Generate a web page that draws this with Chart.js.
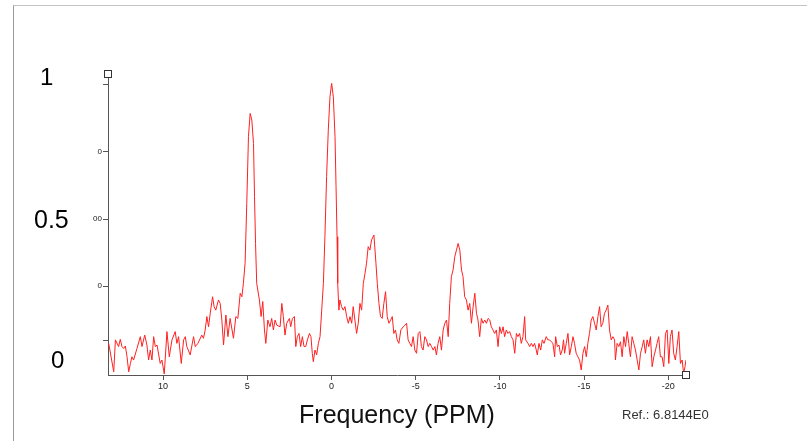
<!DOCTYPE html>
<html>
<head>
<meta charset="utf-8">
<script src="https://cdn.jsdelivr.net/npm/chart.js@4"></script>
<style>
  body { margin: 0; background: #fff; }
  #wrap { position: relative; width: 807px; height: 441px; overflow: hidden; }
  #frame { position: absolute; left: 13px; top: 5px; right: 0; bottom: 0;
           border-top: 1px solid #c4c4c4; border-left: 1px solid #9a9a9a; }
  .big { position: absolute; font-family: 'Liberation Sans', Arial, sans-serif;
         font-size: 24px; line-height: 24px; color: #000; }
  #ref { position: absolute; left: 622px; top: 407px; font-family: 'Liberation Sans', Arial, sans-serif;
         font-size: 13px; color: #333; }
  canvas { position: absolute; left: 0; top: 0; }
</style>
</head>
<body>
<div id="wrap">
  <div id="frame"></div>
  <canvas id="spectrum" width="807" height="441"></canvas>
  <div class="big" id="lab1" style="left:40px; top:65px;">1</div>
  <div class="big" id="lab05" style="left:34px; top:207px; font-size:25px;">0.5</div>
  <div class="big" id="lab0" style="left:51px; top:348px;">0</div>
  <div id="ref">Ref.: 6.8144E0</div>
</div>
<script>
// chemical shift (ppm), left to right
const ppm = [
  13.23, 12.93, 12.83, 12.64, 12.54, 12.44, 12.34, 12.24, 12.14, 12.04, 11.94, 11.85, 11.75, 11.55, 11.35, 11.25, 11.09,
  10.96, 10.86, 10.76, 10.66, 10.56, 10.46, 10.36, 10.17, 10.07, 9.93, 9.77, 9.63, 9.57, 9.47, 9.28, 9.18, 9.08, 8.92,
  8.78, 8.68, 8.59, 8.39, 8.19, 8.09, 7.93, 7.70, 7.60, 7.50, 7.40, 7.30, 7.20, 7.06, 6.97, 6.87, 6.71, 6.61, 6.51, 6.41,
  6.27, 6.15, 6.02, 5.82, 5.68, 5.56, 5.42, 5.32, 5.23, 5.13, 5.03, 4.93, 4.83,
  4.73, 4.63, 4.57, 4.51, 4.44, 4.28, 4.18, 4.08, 3.98, 3.90, 3.78, 3.65, 3.55, 3.45, 3.35, 3.25, 3.05, 2.95, 2.86, 2.76,
  2.66, 2.50, 2.42, 2.32, 2.20, 2.12, 2.03, 1.93, 1.83, 1.73, 1.63, 1.53, 1.43, 1.31, 1.22, 1.14, 1.08, 0.98, 0.88, 0.78,
  0.68, 0.58, 0.48, 0.39, 0.29, 0.19, 0.09, -0.01, -0.11, -0.21, -0.27, -0.33, -0.37, -0.44, -0.50, -0.60, -0.70, -0.80,
  -0.90, -1.00, -1.10, -1.20, -1.29, -1.39, -1.49, -1.59, -1.69, -1.79, -1.89, -1.99, -2.08, -2.18, -2.28, -2.38, -2.52,
  -2.64, -2.72, -2.82, -2.91, -3.01, -3.11, -3.21, -3.31, -3.41, -3.51, -3.61, -3.70, -3.80, -3.90, -4.00,
  -4.12, -4.26, -4.36, -4.46, -4.55, -4.65, -4.75, -4.85, -4.95, -5.05, -5.15, -5.25, -5.34, -5.44, -5.54, -5.64, -5.74,
  -5.84, -5.94, -6.04, -6.14, -6.23, -6.33, -6.43, -6.53, -6.63, -6.73, -6.83, -6.93, -7.02, -7.12, -7.22, -7.32, -7.42,
  -7.52, -7.62, -7.72, -7.81, -7.91, -8.01, -8.11, -8.21, -8.31, -8.41, -8.51, -8.61, -8.70, -8.80, -8.90, -9.00, -9.10,
  -9.20, -9.30, -9.40, -9.49, -9.59, -9.69, -9.79, -9.89, -9.99, -10.09, -10.19, -10.28, -10.38, -10.48, -10.58, -10.68,
  -10.78, -10.88, -10.98, -11.07, -11.17, -11.27, -11.37, -11.47, -11.53, -11.67, -11.77, -11.87, -11.96, -12.06, -12.16,
  -12.22, -12.32, -12.42, -12.52, -12.62,
  -12.75, -12.85, -12.95, -13.05, -13.15, -13.25, -13.31, -13.41, -13.51, -13.60, -13.70, -13.78, -13.84, -13.94, -14.04,
  -14.14, -14.24, -14.34, -14.43, -14.53, -14.63, -14.73, -14.83, -14.93, -15.03, -15.13, -15.22, -15.32, -15.42, -15.52,
  -15.62, -15.72, -15.82, -15.92, -16.01, -16.11, -16.21, -16.31, -16.41, -16.51, -16.61, -16.71, -16.81, -16.86, -16.96,
  -17.06, -17.16, -17.26, -17.36, -17.46, -17.56, -17.65, -17.75, -17.85, -17.95, -18.05, -18.15, -18.25, -18.35, -18.45,
  -18.54, -18.64, -18.74, -18.84, -18.94, -19.04, -19.14, -19.24, -19.33, -19.43, -19.53, -19.63, -19.73, -19.83, -19.93,
  -20.03, -20.12, -20.22, -20.32, -20.42, -20.52, -20.62, -20.72, -20.82, -20.91, -20.99, -21.05
];

// normalised intensity at each ppm value
const intensity = [
  0.036, -0.070, 0.049, 0.024, 0.051, 0.024, 0.017, 0.026, -0.014, -0.070, -0.039, -0.014, -0.026, 0.017, 0.061, 0.024, 0.067,
  0.030, -0.026, 0.011, -0.026, 0.061, 0.024, 0.030, -0.039, -0.026, -0.078, 0.080, -0.014, 0.011, 0.049, 0.080, 0.036, 0.061, -0.039,
  0.049, 0.061, 0.024, -0.007, 0.061, 0.024, 0.036, 0.067, 0.055, 0.086, 0.136, 0.098, 0.148, 0.210, 0.173, 0.160, 0.198, 0.185, 0.123, 0.030,
  0.142, 0.061, 0.129, 0.055, 0.136, 0.129, 0.223, 0.210, 0.260, 0.335, 0.558, 0.807, 0.894,
  0.869, 0.782, 0.583, 0.409, 0.260, 0.198, 0.136, 0.192, 0.086, 0.036, 0.123, 0.098, 0.129, 0.086, 0.123, 0.104, 0.098, 0.185, 0.136, 0.067,
  0.111, 0.129, 0.098, 0.129, 0.136, 0.024, 0.061, 0.073, 0.024, 0.061, 0.024, 0.024, 0.049, 0.073, 0.061, -0.001, -0.032, 0.011, -0.007, 0.036,
  0.061, 0.160, 0.260, 0.434, 0.658, 0.832, 0.956, 1.006, 0.956, 0.807, 0.621, 0.434, 0.260, 0.160, 0.198, 0.173, 0.160, 0.173,
  0.136, 0.111, 0.136, 0.111, 0.173, 0.123, 0.073, 0.111, 0.185, 0.160, 0.260, 0.297, 0.335, 0.397, 0.384, 0.422, 0.440,
  0.335, 0.260, 0.185, 0.136, 0.129, 0.185, 0.229, 0.136, 0.111, 0.123, 0.136, 0.073, 0.086, 0.049, 0.036,
  0.086, 0.098, 0.104, 0.111, 0.049, 0.036, 0.024, 0.061, 0.011, -0.001, 0.073, 0.080, 0.024, 0.011, 0.061, 0.049, 0.024,
  0.036, 0.024, 0.011, 0.024, -0.007, 0.036, 0.061, 0.011, 0.086, 0.111, 0.123, 0.061, 0.185, 0.285, 0.310, 0.359, 0.384,
  0.409, 0.384, 0.310, 0.285, 0.210, 0.198, 0.160, 0.185, 0.111, 0.173, 0.223, 0.148, 0.123, 0.061, 0.129, 0.111, 0.123,
  0.111, 0.129, 0.123, 0.098, 0.086, 0.073, 0.086, 0.024, 0.098, 0.073, 0.098, 0.061, 0.086, 0.073, 0.080, 0.061,
  0.049, -0.001, 0.073, 0.061, 0.073, 0.036, 0.061, 0.136, 0.049, 0.036, 0.024, 0.036, 0.024, 0.036, 0.011,
  -0.007, 0.036, 0.011, 0.049, 0.036,
  0.061, 0.049, 0.049, 0.042, 0.036, -0.014, 0.061, 0.024, 0.030, -0.007, 0.011, 0.049, -0.001, 0.036, 0.073,
  -0.007, 0.024, 0.061, 0.036, -0.001, -0.014, -0.026, -0.063, -0.001, 0.024, -0.014, 0.036, 0.073, 0.123, 0.136,
  0.111, 0.086, 0.136, 0.173, 0.098, 0.111, 0.148, 0.160, 0.179, 0.086, 0.049, 0.061, 0.049, -0.026, 0.036,
  0.024, 0.042, -0.014, 0.061, 0.024, 0.080, 0.036, -0.014, 0.061, 0.036, 0.011, -0.026, -0.063, -0.001, 0.024,
  0.049, -0.001, 0.049, 0.024, 0.061, -0.051, -0.014, 0.011, 0.036, 0.061, -0.014, -0.014, -0.051, 0.073, 0.086,
  -0.039, 0.061, 0.086, -0.001, -0.026, 0.024, 0.080, -0.039, -0.026, -0.076, -0.051, -0.026
];

const xTickValues = [10, 5, 0, -5, -10, -15, -20];
const yTickValues = [1, 0.75, 0.5, 0.25, 0.045];
const yTickLabels = ['', '0', '00', '0', ''];

// little square handles at the ends of the axes
const handles = {
  id: 'handles',
  afterDraw(chart) {
    const ctx = chart.ctx;
    const a = chart.chartArea;
    ctx.save();
    ctx.fillStyle = '#fff';
    ctx.strokeStyle = '#333';
    ctx.lineWidth = 1;
    [[a.left, a.top], [a.right, a.bottom]].forEach(p => {
      const x = Math.round(p[0]) - 3.5, y = Math.round(p[1]) - 3.5;
      ctx.fillRect(x, y, 7, 7);
      ctx.strokeRect(x, y, 7, 7);
    });
    ctx.restore();
  }
};

const ctx = document.getElementById('spectrum').getContext('2d');
const chart = new Chart(ctx, {
  type: 'line',
  data: {
    datasets: [{
      data: ppm.map((p, i) => ({ x: p, y: intensity[i] })),
      borderColor: '#ff2020',
      borderWidth: 1,
      pointRadius: 0,
      tension: 0,
      fill: false
    }]
  },
  options: {
    responsive: false,
    animation: false,
    layout: { padding: { top: 74, right: 121, left: 0, bottom: 0 } },
    plugins: { legend: { display: false }, tooltip: { enabled: false } },
    scales: {
      x: {
        type: 'linear',
        reverse: true,
        min: -21.05,
        max: 13.27,
        afterBuildTicks: s => { s.ticks = xTickValues.map(v => ({ value: v })); },
        afterFit: s => { s.height = 66; },
        grid: { drawOnChartArea: false, tickLength: 5, color: '#555' },
        border: { color: '#555' },
        ticks: {
          autoSkip: false, maxRotation: 0, padding: 1, color: '#222',
          font: { family: 'Liberation Sans', size: 9 },
          callback: v => String(v)
        },
        title: {
          display: true, text: 'Frequency (PPM)', color: '#111',
          font: { family: 'Liberation Sans', size: 25 },
          padding: { top: 0, bottom: 10 }
        }
      },
      y: {
        min: -0.082,
        max: 1.041,
        afterBuildTicks: s => { s.ticks = yTickValues.map(v => ({ value: v })); },
        afterFit: s => { s.width = 108; },
        grid: { drawOnChartArea: false, tickLength: 5, color: '#555' },
        border: { color: '#555' },
        ticks: {
          autoSkip: false, padding: 1, color: '#222',
          font: { family: 'Liberation Sans', size: 8 },
          callback: (v, i) => yTickLabels[i]
        }
      }
    }
  },
  plugins: [handles]
});
</script>
</body>
</html>
